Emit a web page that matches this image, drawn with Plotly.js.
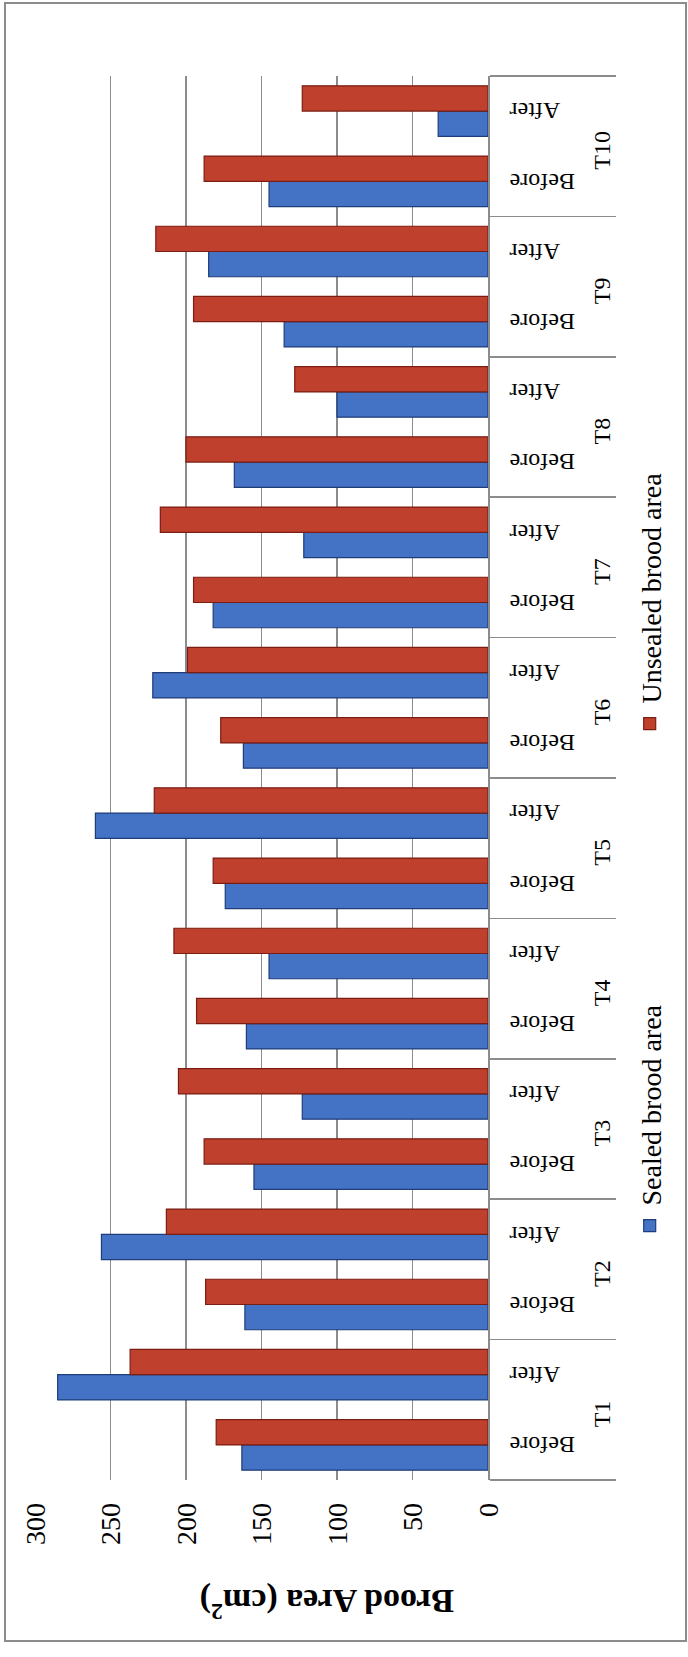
<!DOCTYPE html>
<html>
<head>
<meta charset="utf-8">
<script src="https://cdn.plot.ly/plotly-3.0.1.min.js"></script>
<style>
html, body { margin:0; padding:0; background:#fff; overflow:hidden; width:688px; height:1657px; }
#wrap { position:absolute; left:0; top:0; width:1657px; height:688px; transform-origin:0 0; transform:translateY(1657px) rotate(-90deg); }
#chart { position:absolute; left:0; top:0; width:1657px; height:688px; }
#frame { position:absolute; left:15px; top:4px; width:1640px; height:683px; border:2px solid #8c8c8c; box-sizing:border-box; pointer-events:none; }
</style>
</head>
<body>
<div id="wrap"><div id="chart"></div><div id="frame"></div></div>
<script>
// ---- data ----
const treatments = ['T1','T2','T3','T4','T5','T6','T7','T8','T9','T10'];
const phases = ['Before','After'];
const sealedBefore   = [163, 161, 155, 160, 174, 162, 182, 168, 135, 145];
const sealedAfter    = [285, 256, 123, 145, 260, 222, 122, 100, 185, 33];
const unsealedBefore = [180, 187, 188, 193, 182, 177, 195, 200, 195, 188];
const unsealedAfter  = [237, 213, 205, 208, 221, 199, 217, 128, 220, 123];
const seriesNames = ['Sealed brood area', 'Unsealed brood area'];
const yTicks = [0, 50, 100, 150, 200, 250, 300];
const axisTitle = 'Brood Area (cm<sup>2</sup>)';

// ---- build multicategory arrays ----
const outer = [], inner = [], sealed = [], unsealed = [];
treatments.forEach((t, i) => {
  phases.forEach(p => {
    outer.push(t); inner.push(p);
    sealed.push(p === 'Before' ? sealedBefore[i] : sealedAfter[i]);
    unsealed.push(p === 'Before' ? unsealedBefore[i] : unsealedAfter[i]);
  });
});

const traces = [
  { type:'bar', name:seriesNames[0], x:[outer, inner], y:sealed,
    marker:{ color:'#4472c4', line:{ color:'#1f3d78', width:1.2 } } },
  { type:'bar', name:seriesNames[1], x:[outer, inner], y:unsealed,
    marker:{ color:'#c0402e', line:{ color:'#7a1d12', width:1.2 } } }
];

const serif = '"Liberation Serif", "Times New Roman", serif';

const layout = {
  width:1657, height:688,
  margin:{ l:177, r:76, t:35, b:200, autoexpand:false },
  paper_bgcolor:'rgba(0,0,0,0)', plot_bgcolor:'rgba(0,0,0,0)',
  font:{ family:serif, color:'#000' },
  barmode:'group', bargap:0.28, bargroupgap:0,
  showlegend:true,
  xaxis:{ type:'multicategory', tickangle:-90, tickfont:{ size:24, color:'#000' },
          showline:true, linecolor:'#8c8c8c', linewidth:2,
          showdividers:true, dividercolor:'#8c8c8c', dividerwidth:1.5,
          ticks:'', showgrid:false, ticklabelstandoff:10 },
  yaxis:{ range:[0, 300], tickvals:yTicks, tickfont:{ size:28, color:'#000' },
          showgrid:true, gridcolor:'#8c8c8c', gridwidth:1.5,
          zeroline:false, showline:false, ticks:'', ticklabelstandoff:22 },
  legend:{ orientation:'h', x:0.167, xanchor:'left', y:-0.3576, yanchor:'middle',
           font:{ size:28, color:'#000' }, entrywidth:457, traceorder:'normal',
           bgcolor:'rgba(0,0,0,0)' },
  annotations:[{ text:'<b>' + axisTitle + '</b>', xref:'paper', yref:'paper',
                 x:-0.0883, y:0.3554, textangle:-90, showarrow:false,
                 font:{ size:34, color:'#000', family:serif },
                 xanchor:'center', yanchor:'middle' }]
};

Plotly.newPlot('chart', traces, layout, { staticPlot:true, displayModeBar:false });
</script>
</body>
</html>
